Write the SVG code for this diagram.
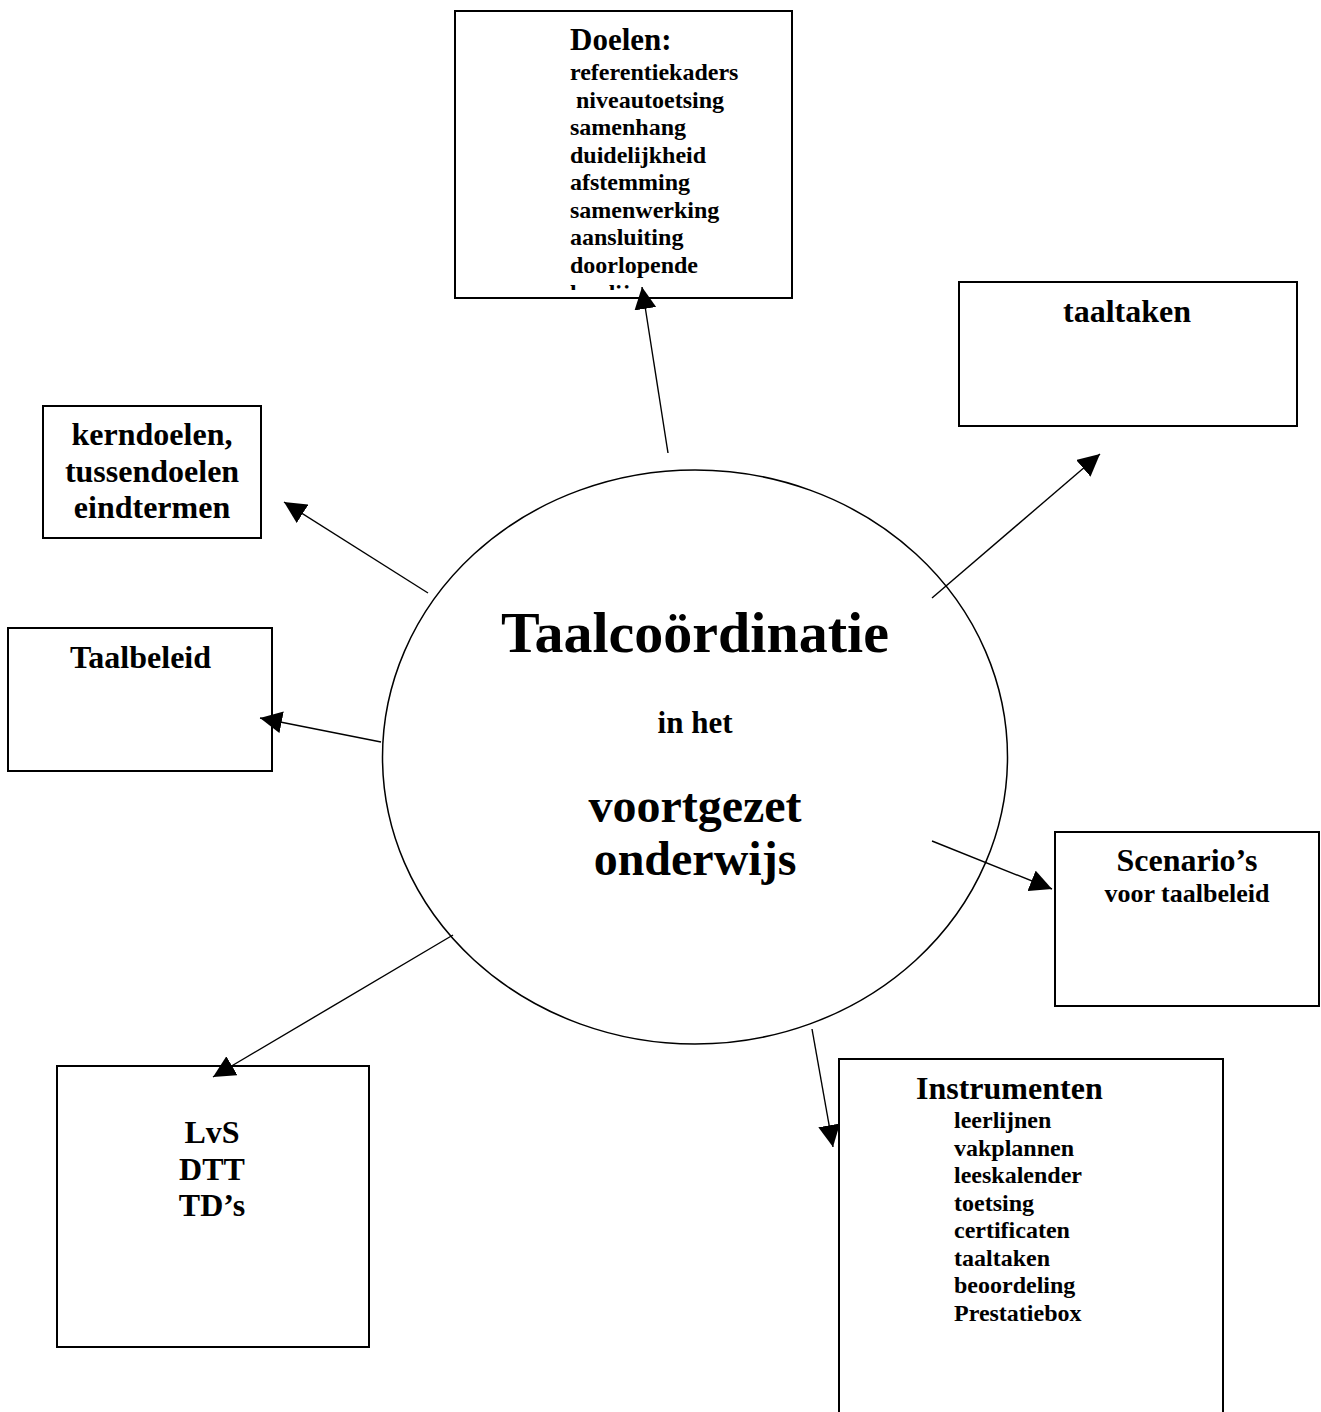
<svg xmlns="http://www.w3.org/2000/svg" width="1321" height="1412" viewBox="0 0 1321 1412">
<style>
  .box { fill: #ffffff; stroke: #000000; stroke-width: 2; }
  .ell { fill: #ffffff; stroke: #000000; stroke-width: 1.5; }
  .con { fill: none; stroke: #000000; stroke-width: 1.4; marker-end: url(#arrow); }
  text { font-family: "Liberation Serif", "Times New Roman", serif; font-weight: bold; fill: #000000; }
  .big { font-size: 32px; }
  .head { font-size: 31px; }
  .item { font-size: 24px; }
  .mid { text-anchor: middle; }
</style>
<defs>
  <marker id="arrow" markerUnits="userSpaceOnUse" markerWidth="22" markerHeight="22" refX="20" refY="10" orient="auto" viewBox="0 0 20 20">
    <path d="M0,0 L20,10 L0,20 z" fill="#000000"/>
  </marker>
  <clipPath id="clipDoelen">
    <rect x="456" y="12" width="335" height="278"/>
  </clipPath>
</defs>
<rect x="0" y="0" width="1321" height="1412" fill="#ffffff"/>

<g id="center">
  <ellipse class="ell" cx="695" cy="757" rx="312.5" ry="287"/>
  <text class="mid" x="695" y="652" font-size="58">Taalcoördinatie</text>
  <text class="mid" x="695" y="733" font-size="31">in het</text>
  <text class="mid" x="695" y="822" font-size="48">voortgezet</text>
  <text class="mid" x="695" y="875" font-size="48">onderwijs</text>
</g>

<g id="doelen">
  <rect class="box" x="455" y="11" width="337" height="287"/>
  <g clip-path="url(#clipDoelen)">
    <text class="head" x="570" y="50">Doelen:</text>
    <text class="item" x="570" y="80">referentiekaders</text>
    <text class="item" x="570" y="107.5" xml:space="preserve"> niveautoetsing</text>
    <text class="item" x="570" y="135">samenhang</text>
    <text class="item" x="570" y="162.5">duidelijkheid</text>
    <text class="item" x="570" y="190">afstemming</text>
    <text class="item" x="570" y="217.5">samenwerking</text>
    <text class="item" x="570" y="245">aansluiting</text>
    <text class="item" x="570" y="273">doorlopende</text>
    <text class="item" x="570" y="301">leerlijnen</text>
  </g>
</g>

<g id="taaltaken">
  <rect class="box" x="959" y="282" width="338" height="144"/>
  <text class="big mid" x="1127" y="322">taaltaken</text>
</g>

<g id="kerndoelen">
  <rect class="box" x="43" y="406" width="218" height="132"/>
  <text class="big mid" x="152" y="445">kerndoelen,</text>
  <text class="big mid" x="152" y="482">tussendoelen</text>
  <text class="big mid" x="152" y="518">eindtermen</text>
</g>

<g id="taalbeleid">
  <rect class="box" x="8" y="628" width="264" height="143"/>
  <text class="big mid" x="140.5" y="668">Taalbeleid</text>
</g>

<g id="scenarios">
  <rect class="box" x="1055" y="832" width="264" height="174"/>
  <text class="big mid" x="1187" y="871">Scenario’s</text>
  <text class="mid" x="1187" y="902" font-size="26">voor taalbeleid</text>
</g>

<g id="lvs">
  <rect class="box" x="57" y="1066" width="312" height="281"/>
  <text class="big mid" x="212" y="1143">LvS</text>
  <text class="big mid" x="212" y="1180">DTT</text>
  <text class="big mid" x="212" y="1216">TD’s</text>
</g>

<g id="instrumenten">
  <rect class="box" x="839" y="1059" width="384" height="400"/>
  <text class="big" x="916" y="1099">Instrumenten</text>
  <text class="item" x="954" y="1128">leerlijnen</text>
  <text class="item" x="954" y="1156">vakplannen</text>
  <text class="item" x="954" y="1183">leeskalender</text>
  <text class="item" x="954" y="1211">toetsing</text>
  <text class="item" x="954" y="1238">certificaten</text>
  <text class="item" x="954" y="1266">taaltaken</text>
  <text class="item" x="954" y="1293">beoordeling</text>
  <text class="item" x="954" y="1321">Prestatiebox</text>
</g>

<g id="connectors">
  <line class="con" x1="668" y1="453" x2="642" y2="287"/>
  <line class="con" x1="932" y1="598" x2="1100" y2="454"/>
  <line class="con" x1="428" y1="593" x2="284" y2="502"/>
  <line class="con" x1="381" y1="742" x2="260" y2="718"/>
  <line class="con" x1="932" y1="841" x2="1052" y2="889"/>
  <line class="con" x1="453" y1="935" x2="213" y2="1077"/>
  <line class="con" x1="812" y1="1029" x2="833" y2="1147"/>
</g>
</svg>
